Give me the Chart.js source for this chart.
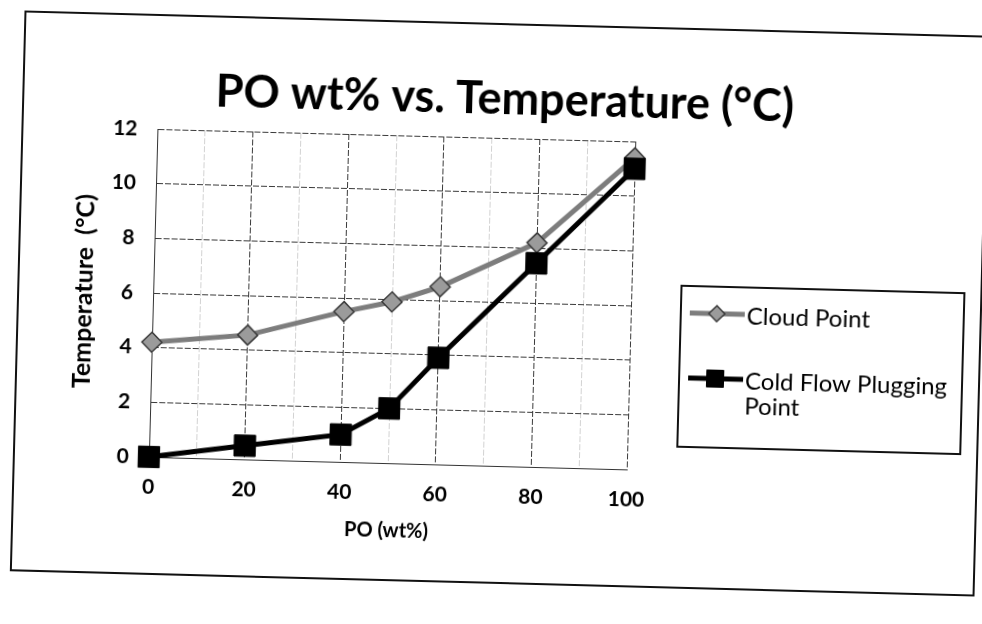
<!DOCTYPE html>
<html>
<head>
<meta charset="utf-8">
<script src="https://cdn.jsdelivr.net/npm/chart.js@4.4.1/dist/chart.umd.min.js"></script>
<style>
  html, body { margin: 0; padding: 0; background: #fff; }
  body { width: 982px; height: 624px; overflow: hidden; position: relative; }
  #frame {
    position: absolute; left: 17px; top: 23px; width: 965px; height: 561px;
    box-sizing: border-box; border: 2px solid #111; background: #fff;
    transform: rotate(1.5deg); transform-origin: 50% 50%;
  }
  #frame canvas { position: absolute; left: 0; top: 0; }
</style>
</head>
<body>
<div id="frame"><canvas id="myChart" width="961" height="557"></canvas></div>
<script>
// values
const poWt = [0, 20, 40, 50, 60, 80, 100];
const cloudPoint = [4.2, 4.55, 5.5, 5.9, 6.5, 8.2, 11.4];
const coldFlow = [0, 0.5, 1.0, 2.0, 3.9, 7.45, 11.0];
const xTicks = [0, 20, 40, 60, 80, 100];
const yTicks = [0, 2, 4, 6, 8, 10, 12];

const FONT = "Lato, 'Open Sans', sans-serif";

// box legend on the right, with wrapped labels like the Excel one
const boxLegend = {
  id: 'boxLegend',
  afterDraw(chart) {
    const ctx = chart.ctx;
    const area = chart.chartArea;
    const left = area.right + 50, top = area.top + 143;
    const right = left + 283, bottom = top + 161;
    ctx.save();
    ctx.strokeStyle = '#111';
    ctx.lineWidth = 2;
    ctx.strokeRect(left, top, right - left, bottom - top);

    const rows = [top + 27, top + 92];
    const textX = left + 66;
    ctx.font = '24px ' + FONT;
    ctx.textBaseline = 'middle';
    chart.data.datasets.forEach((ds, i) => {
      const y = rows[i];
      ctx.strokeStyle = ds.borderColor;
      ctx.lineWidth = ds.borderWidth;
      ctx.beginPath();
      ctx.moveTo(left + 9, y);
      ctx.lineTo(left + 64, y);
      ctx.stroke();
      ctx.fillStyle = ds.pointBackgroundColor;
      ctx.strokeStyle = ds.pointBorderColor;
      ctx.lineWidth = ds.pointBorderWidth;
      Chart.helpers.drawPoint(ctx, {
        pointStyle: ds.pointStyle, radius: ds.pointRadius * 0.8,
        rotation: 0, borderWidth: ds.pointBorderWidth
      }, left + 36, y);

      // wrap label
      const words = ds.label.split(' ');
      const lines = [];
      let cur = '';
      words.forEach(w => {
        const t = cur ? cur + ' ' + w : w;
        if (ctx.measureText(t).width > right - textX - 4 && cur) {
          lines.push(cur);
          cur = w;
        } else cur = t;
      });
      lines.push(cur);
      ctx.fillStyle = '#000';
      lines.forEach((ln, k) => ctx.fillText(ln, textX, y + 2 + k * 25));
    });
    ctx.restore();
  }
};

const ctx = document.getElementById('myChart').getContext('2d');

new Chart(ctx, {
  type: 'line',
  data: {
    datasets: [{
      label: 'Cloud Point',
      data: poWt.map((x, i) => ({ x: x, y: cloudPoint[i] })),
      borderColor: '#7d7d7d',
      borderWidth: 5,
      pointStyle: 'rectRot',
      pointRadius: 10,
      pointBackgroundColor: '#9b9b9b',
      pointBorderColor: '#3a3a3a',
      pointBorderWidth: 1.5,
      clip: false,
      order: 1
    }, {
      label: 'Cold Flow Plugging Point',
      data: poWt.map((x, i) => ({ x: x, y: coldFlow[i] })),
      borderColor: '#000',
      borderWidth: 5,
      pointStyle: 'rect',
      pointRadius: 15,
      pointBackgroundColor: '#000',
      pointBorderColor: '#000',
      pointBorderWidth: 1,
      clip: false,
      order: 0
    }]
  },
  options: {
    responsive: false,
    animation: false,
    layout: { padding: { left: 0, right: 0, top: 0, bottom: 36 } },
    plugins: {
      legend: { display: false },
      tooltip: { enabled: false },
      title: {
        display: true,
        text: 'PO wt% vs. Temperature (°C)',
        color: '#000',
        font: { family: FONT, size: 45, weight: 'bold' },
        padding: { top: 47, bottom: 12 }
      }
    },
    scales: {
      x: {
        type: 'linear',
        min: 0, max: 100,
        afterBuildTicks: s => { s.ticks = [0,10,20,30,40,50,60,70,80,90,100].map(v => ({ value: v })); },
        afterFit: s => { s.height = 80; },
        ticks: {
          padding: 18,
          color: '#000',
          font: { family: FONT, size: 21, weight: 'bold' },
          callback: v => xTicks.includes(v) ? String(v) : ''
        },
        grid: {
          drawTicks: false,
          color: c => xTicks.includes(c.tick.value) ? '#3a3a3a' : '#d2d2d2',
          lineWidth: 1
        },
        border: { display: true, color: '#333', dash: [6, 2] },
        title: {
          display: true,
          text: 'PO (wt%)',
          color: '#000',
          font: { family: FONT, size: 20, weight: 'bold' },
          padding: { top: 0, bottom: 0 }
        }
      },
      y: {
        type: 'linear',
        min: 0, max: 12,
        afterBuildTicks: s => { s.ticks = [0,1,2,3,4,5,6,7,8,9,10,11,12].map(v => ({ value: v })); },
        afterFit: s => { s.width = 134; },
        ticks: {
          padding: 20,
          color: '#000',
          font: { family: FONT, size: 21, weight: 'bold' },
          callback: v => yTicks.includes(v) ? String(v) : ''
        },
        grid: {
          drawTicks: false,
          color: c => yTicks.includes(c.tick.value) ? '#3a3a3a' : '#d2d2d2',
          lineWidth: 1
        },
        border: { display: true, color: '#333', dash: [6, 2] },
        title: {
          display: true,
          text: 'Temperature  (°C)',
          color: '#000',
          font: { family: FONT, size: 25, weight: 'bold' },
          padding: { top: 50, bottom: 0 }
        }
      },
      legendSpace: {
        type: 'linear',
        position: 'right',
        min: 0, max: 1,
        afterFit: s => { s.width = 349; },
        ticks: { display: false },
        grid: { display: false },
        border: { display: false }
      }
    }
  },
  plugins: [boxLegend]
});
</script>
</body>
</html>
